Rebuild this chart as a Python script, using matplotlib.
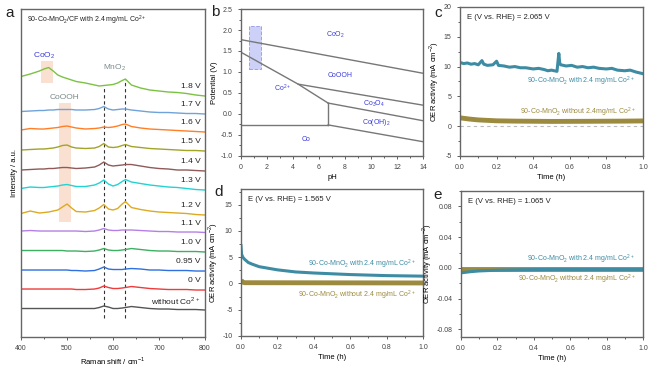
import numpy as np
import matplotlib
matplotlib.use('Agg')
import matplotlib.pyplot as plt
import matplotlib.patches as patches
import matplotlib.ticker as ticker

plt.rcParams['font.family'] = ['Liberation Sans', 'DejaVu Sans']
plt.rcParams['font.size'] = 5
plt.rcParams['mathtext.fontset'] = 'custom'
plt.rcParams['mathtext.rm'] = 'Liberation Sans'

# ---- panel a: Raman spectra ----
raman_x = [400, 420, 440, 450, 460, 470, 480, 490, 500, 510, 520, 540, 560, 570,
           580, 590, 600, 610, 620, 627, 640, 660, 680, 700, 720, 740, 760, 780, 800]
spec_labels = ['1.8 V', '1.7 V', '1.6 V', '1.5 V', '1.4 V', '1.3 V', '1.2 V',
               '1.1 V', '1.0 V', '0.95 V', '0 V', 'without Co$^{2+}$']
spec_offsets = [241, 223, 205, 186, 166, 147, 122, 104.5, 85, 66, 47, 27]
spec_colors = ['#7cc242', '#6fa3d9', '#ff7f27', '#a3a32a', '#8f5a5a', '#22d3d3',
               '#ddaa22', '#b580e6', '#3cb060', '#2f6fe0', '#ee3b3b', '#555555']
spectra = [
    [19.5, 22, 25, 27, 28.5, 25, 21, 19, 17.5, 16, 14.5, 13, 11, 10, 10.5, 11, 11.5, 13, 15.5, 17, 11, 8, 6, 5, 4, 3.5, 2.5, 1, 0],
    [2.5, 3, 3.5, 3.5, 4, 4, 4.5, 4.5, 4.5, 4.5, 4, 4, 4.5, 5.5, 7.5, 5, 4, 4.5, 5, 5, 4, 3, 2, 1.5, 1.5, 1, 0.5, 0.5, 0],
    [2, 3.5, 3, 3, 3.5, 4, 4.5, 5.5, 6, 5, 4, 3, 3.5, 4, 5, 4.5, 5, 6, 7.5, 8, 5.5, 4, 3, 2.5, 2, 1.5, 1, 0.5, 0],
    [1, 1.5, 2, 2, 2.5, 3, 4, 5.5, 6, 4, 3, 2.5, 3, 4.5, 7.5, 4, 3.5, 4, 5.5, 6.5, 4.5, 3.5, 2.5, 2, 1.5, 1, 0.5, 0.5, 0],
    [1, 1.5, 2, 2, 2.5, 2.5, 3, 3.5, 3.5, 3, 2.5, 3, 4, 6, 9, 6, 5, 5.5, 6, 6.5, 6.5, 5, 3.5, 2.5, 2, 1, 1, 0.5, 0],
    [1.5, 3, 2.5, 2.5, 3, 3.5, 4, 5, 5.5, 4.5, 3.5, 3.5, 5, 7, 10, 6, 4, 5.5, 8.5, 10.5, 8, 6.5, 5, 4, 3, 2.5, 1.5, 0.5, 0],
    [1.5, 4, 2, 2.5, 3, 4, 5, 8, 11, 7, 3.5, 3, 4.5, 7, 10.5, 6, 5, 6.5, 11, 13.5, 7.5, 5.5, 4, 3, 2.5, 2, 1.5, 0.5, 0],
    [1.5, 2, 1.5, 1.5, 1.5, 1.5, 1.5, 1.5, 1.5, 1.5, 1.5, 1, 1.5, 2.5, 4, 2.5, 2, 2, 2.5, 2.5, 2.5, 2, 1.5, 1, 1, 0.5, 0.5, 0.5, 0],
    [1.5, 1.5, 1.5, 1.5, 1.5, 1.5, 1.5, 1.5, 1, 1, 1, 0.5, 1, 2, 3.5, 2, 1.5, 1.5, 2, 2.5, 3.5, 2.5, 1.5, 1, 1, 0.5, 0.5, 0.5, 0],
    [1, 1, 1, 1, 1, 1, 1, 1, 1, 0.5, 0.5, 0, 0.5, 2, 4, 2, 1.5, 1.5, 1.5, 2, 2.5, 2, 1, 1, 0.5, 0.5, 0.5, 0, 0],
    [1, 1, 1, 1, 1, 1, 1, 1, 1, 1, 0.5, 0.5, 1, 2, 4, 2.5, 1.5, 1.5, 2, 2.5, 3.5, 2.5, 1.5, 1, 0.5, 0.5, 0.5, 0, 0],
    [1.5, 1.5, 1.5, 1.5, 1.5, 1.5, 1.5, 1.5, 1.5, 1.5, 1.5, 1.5, 1.5, 2.5, 4, 3, 1.5, 1.5, 2, 2.5, 3.5, 2.5, 1.5, 1, 1, 0.5, 0.5, 0.5, 0],
]
mno2_peaks = [580, 627]

# ---- panel b: Pourbaix diagram (pH, potential) ----
pb_lines = [
    ([0, 14], [1.77, 0.97]),
    ([0, 4.4, 6.7], [1.47, 0.71, 0.26]),
    ([4.4, 14], [0.71, 0.21]),
    ([6.7, 14], [0.26, -0.16]),
    ([6.7, 6.7], [0.26, -0.26]),
    ([0, 6.7], [-0.26, -0.26]),
    ([6.7, 14], [-0.26, -0.66]),
]
pb_labels = ['CoO$_2$', 'CoOOH', 'Co$^{2+}$', 'Co$_3$O$_4$', 'Co(OH)$_2$', 'Co']
pb_label_x = [7.3, 7.6, 3.2, 10.2, 10.4, 5.0]
pb_label_y = [1.88, 0.92, 0.61, 0.24, -0.2, -0.6]
pb_box_ph = [0.6, 1.55]
pb_box_e = [1.07, 2.1]

# ---- panels c-e: chronoamperometry ----
t_c = [0, 0.02, 0.04, 0.06, 0.08, 0.1, 0.12, 0.13, 0.15, 0.18, 0.2, 0.21, 0.24,
       0.27, 0.3, 0.33, 0.36, 0.4, 0.43, 0.46, 0.48, 0.5, 0.53, 0.54, 0.545, 0.55,
       0.58, 0.61, 0.64, 0.67, 0.7, 0.73, 0.76, 0.8, 0.83, 0.86, 0.9, 0.93, 0.96, 1.0]
with_c = [10.7, 10.5, 10.6, 10.4, 10.5, 10.3, 11.0, 10.4, 10.2, 10.3, 10.9, 10.2, 10.1,
          9.9, 10.0, 9.8, 9.8, 9.6, 9.7, 9.5, 9.3, 9.4, 9.2, 12.2, 10.6, 10.3,
          10.1, 10.2, 9.9, 10.0, 9.8, 9.9, 9.7, 9.6, 9.7, 9.4, 9.3, 9.4, 9.1, 8.8]
t_c_wo = [0, 0.05, 0.1, 0.2, 0.3, 0.5, 0.7, 0.9, 1.0]
without_c = [1.4, 1.2, 1.05, 0.9, 0.85, 0.8, 0.82, 0.85, 0.88]

t_d = [0, 0.003, 0.01, 0.02, 0.04, 0.06, 0.1, 0.15, 0.2, 0.3, 0.4, 0.5, 0.6, 0.7, 0.8, 0.9, 1.0]
with_d = [7.2, 5.6, 5.0, 4.6, 4.0, 3.7, 3.2, 2.9, 2.6, 2.2, 2.0, 1.85, 1.7, 1.6, 1.5, 1.45, 1.4]
t_d_wo = [0, 0.005, 0.02, 1.0]
without_d = [0.7, 0.3, 0.15, 0.1]

t_e = [0, 0.05, 0.1, 0.2, 0.3, 0.5, 1.0]
with_e = [-0.0065, -0.005, -0.004, -0.003, -0.0025, -0.002, -0.002]
t_e_wo = [0, 1.0]
without_e = [-0.002, -0.002]

TEAL = '#3d8ca3'
GOLD = '#9c8a3e'
FRAME = '#666666'
PB_BLUE = '#3a3ae0'


def style_axes(ax):
    for s in ax.spines.values():
        s.set_color(FRAME)
        s.set_linewidth(1.0)
    ax.tick_params(which='both', direction='out', colors='#444444', labelsize=5,
                   width=0.6)
    ax.tick_params(which='major', length=2.5)
    ax.tick_params(which='minor', length=1.5)


def plot_ca(ax, t1, y1, t2, y2, elabel, ylim, ymajor, yfmt, txt_y, zero_line=False):
    style_axes(ax)
    if zero_line:
        ax.axhline(0, color='#bbbbbb', linestyle='--', linewidth=0.8, dashes=(3, 3))
    ax.plot(t2, y2, color=GOLD, linewidth=3.5, solid_capstyle='butt')
    ax.plot(t1, y1, color=TEAL, linewidth=2.2)
    ax.set_xlim(0, 1)
    ax.set_ylim(*ylim)
    ax.xaxis.set_major_locator(ticker.MultipleLocator(0.2))
    ax.xaxis.set_minor_locator(ticker.MultipleLocator(0.1))
    ax.xaxis.set_major_formatter(ticker.FormatStrFormatter('%.1f'))
    ax.yaxis.set_major_locator(ticker.MultipleLocator(ymajor))
    ax.yaxis.set_minor_locator(ticker.MultipleLocator(ymajor / 2))
    ax.yaxis.set_major_formatter(ticker.FormatStrFormatter(yfmt))
    ax.set_xlabel('Time (h)', fontsize=5.5, labelpad=2)
    ax.set_ylabel('OER activity (mA cm$^{-2}$)', fontsize=5.5, labelpad=2)
    ax.text(0.04, 0.93, 'E (V vs. RHE) = ' + elabel, transform=ax.transAxes,
            fontsize=5.5, va='center', color='#222222')
    ax.text(0.96, txt_y[0], '90-Co-MnO$_2$ with 2.4 mg/mL Co$^{2+}$',
            transform=ax.transData, color=TEAL, ha='right', va='center', fontsize=5)
    ax.text(0.96, txt_y[1], '90-Co-MnO$_2$ without ' + txt_y[2] + ' Co$^{2+}$',
            transform=ax.transData, color=GOLD, ha='right', va='center', fontsize=5)


fig = plt.figure(figsize=(6.51, 3.66), dpi=100)

# panel a
ax_a = fig.add_axes([0.0323, 0.0792, 0.2826, 0.8962])
style_axes(ax_a)
ax_a.add_patch(patches.Rectangle((443, 254), 27, 22, facecolor='#f9d9c6',
                                 edgecolor='none', alpha=0.8, zorder=0))
ax_a.add_patch(patches.Rectangle((482, 115), 26, 119, facecolor='#f9d9c6',
                                 edgecolor='none', alpha=0.8, zorder=0))
for off, ys, col, lab in zip(spec_offsets, spectra, spec_colors, spec_labels):
    ax_a.plot(raman_x, np.array(ys) + off, color=col, linewidth=1.0)
    ax_a.text(790, off + 9.5, lab, ha='right', va='center', fontsize=6, color='#222222')
top_trace = np.array(spectra[0]) + spec_offsets[0]
for pk in mno2_peaks:
    ytop = top_trace[raman_x.index(pk)]
    ax_a.plot([pk, pk], [19, ytop], color='#333333', linestyle='--',
              linewidth=0.8, dashes=(3, 2.5), zorder=0.5)
ax_a.text(450, 281, 'CoO$_2$', color=PB_BLUE, fontsize=6, ha='center', va='center')
ax_a.text(495, 240, 'CoOOH', color='#7a8a8a', fontsize=6, ha='center', va='center')
ax_a.text(603, 269, 'MnO$_2$', color='#7a8a8a', fontsize=6, ha='center', va='center')
ax_a.text(413, 317, '90-Co-MnO$_2$/CF with 2.4 mg/mL Co$^{2+}$', fontsize=5,
          ha='left', va='center', color='#222222')
ax_a.set_xlim(400, 800)
ax_a.set_ylim(0, 328)
ax_a.xaxis.set_major_locator(ticker.MultipleLocator(100))
ax_a.xaxis.set_minor_locator(ticker.MultipleLocator(50))
ax_a.set_yticks([])
ax_a.set_xlabel('Raman shift / cm$^{-1}$', fontsize=5.5, labelpad=2)
ax_a.set_ylabel('Intensity / a.u.', fontsize=5.5, labelpad=2)

# panel b
ax_b = fig.add_axes([0.3702, 0.5738, 0.2796, 0.4016])
style_axes(ax_b)
ax_b.add_patch(patches.Rectangle((pb_box_ph[0], pb_box_e[0]),
                                 pb_box_ph[1] - pb_box_ph[0], pb_box_e[1] - pb_box_e[0],
                                 facecolor='#cdd0f7', edgecolor='#9aa2ee',
                                 linestyle='--', linewidth=0.7))
for xs, ys in pb_lines:
    ax_b.plot(xs, ys, color='#777777', linewidth=1.0)
for lab, x, y in zip(pb_labels, pb_label_x, pb_label_y):
    ax_b.text(x, y, lab, color=PB_BLUE, fontsize=5, ha='center', va='center')
ax_b.set_xlim(0, 14)
ax_b.set_ylim(-1.0, 2.5)
ax_b.xaxis.set_major_locator(ticker.MultipleLocator(2))
ax_b.xaxis.set_minor_locator(ticker.MultipleLocator(1))
ax_b.yaxis.set_major_locator(ticker.MultipleLocator(0.5))
ax_b.yaxis.set_minor_locator(ticker.MultipleLocator(0.25))
ax_b.yaxis.set_major_formatter(ticker.FormatStrFormatter('%.1f'))
ax_b.set_xlabel('pH', fontsize=5.5, labelpad=2)
ax_b.set_ylabel('Potential (V)', fontsize=5.5, labelpad=2)

# panel c
ax_c = fig.add_axes([0.7066, 0.5738, 0.2811, 0.4072])
plot_ca(ax_c, t_c, with_c, t_c_wo, without_c, '2.065 V', (-5, 20), 5, '%d',
        (7.6, 2.3, '2.4mg/mL'), zero_line=True)

# panel d
ax_d = fig.add_axes([0.3702, 0.082, 0.2796, 0.4016])
plot_ca(ax_d, t_d, with_d, t_d_wo, without_d, '1.565 V', (-10, 18), 5, '%d',
        (3.7, -2.2, '2.4 mg/mL'))

# panel e
ax_e = fig.add_axes([0.7081, 0.0792, 0.2796, 0.3988])
plot_ca(ax_e, t_e, with_e, t_e_wo, without_e, '1.065 V', (-0.09, 0.1), 0.04, '%.2f',
        (0.0115, -0.0153, '2.4 mg/mL'))

for lab, x, y in [('a', 0.008, 0.965), ('b', 0.324, 0.968), ('c', 0.668, 0.965),
                  ('d', 0.330, 0.475), ('e', 0.665, 0.468)]:
    fig.text(x, y, lab, fontsize=11, ha='left', va='center', color='#222222')

fig.savefig('out.png', dpi=100)
